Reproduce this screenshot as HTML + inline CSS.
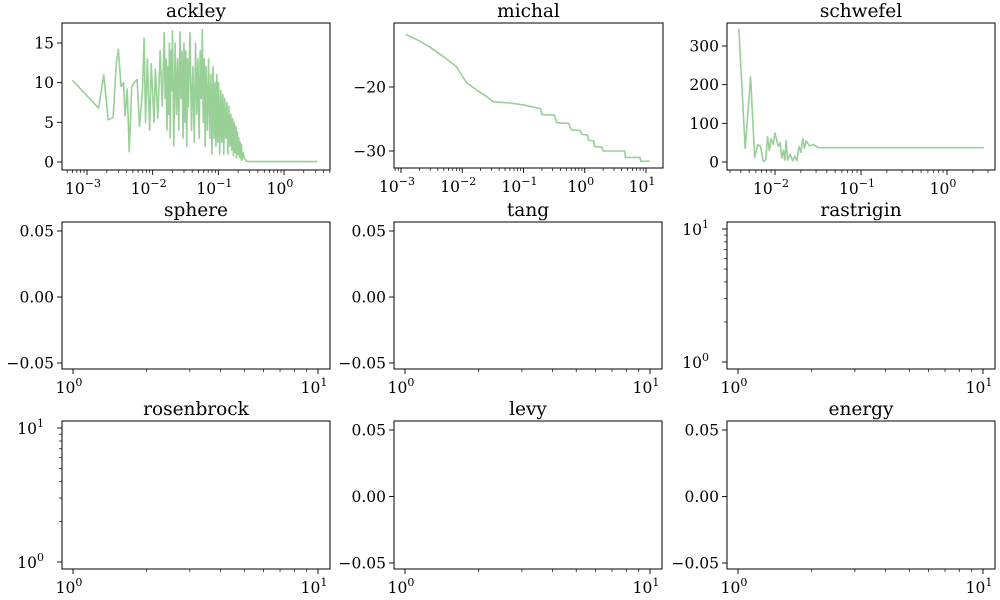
<!DOCTYPE html>
<html><head><meta charset="utf-8"><style>
body{margin:0;background:#fff}
svg{display:block;font-family:"DejaVu Serif","Liberation Serif",serif}
</style></head><body>
<svg id="fig" width="1000" height="600" viewBox="0 0 1000 600"></svg>
<script>
const ackleyX=[6e-4,1.5e-3,1.8e-3,2.1e-3,2.5e-3,2.8e-3,3.0e-3,3.3e-3,3.6e-3,3.8e-3,4.1e-3,4.4e-3,4.8e-3,5.2e-3,5.8e-3,6.3e-3,7e-3,7.4e-3,7.8e-3,8.3e-3,9e-3,9.5e-3,1.05e-2,1.1e-2,1.2e-2,1.3e-2,1.4e-2,1.5e-2,1.55e-2,1.6e-2,1.65e-2,1.7e-2,1.75e-2,1.8e-2,1.85e-2,1.9e-2,1.95e-2,2.0e-2,2.1e-2,2.2e-2,2.3e-2,2.4e-2,2.5e-2,2.6e-2,2.7e-2,2.8e-2,2.9e-2,3.0e-2,3.1e-2,3.2e-2,3.3e-2,3.4e-2,3.5e-2,3.7e-2,3.9e-2,4.1e-2,4.3e-2,4.5e-2,4.7e-2,4.9e-2,5.1e-2,5.3e-2,5.5e-2,5.7e-2,5.9e-2,6.1e-2,6.3e-2,6.5e-2,6.8e-2,7.1e-2,7.4e-2,7.7e-2,8.0e-2,8.3e-2,8.6e-2,8.9e-2,9.2e-2,9.5e-2,9.8e-2,0.101,0.105,0.109,0.113,0.117,0.121,0.125,0.13,0.135,0.14,0.145,0.15,0.155,0.16,0.165,0.17,0.175,0.18,0.185,0.19,0.195,0.2,0.205,0.21,0.215,0.22,0.225,0.23,0.24,0.25,0.27,0.3,0.35,0.45,0.7,1.5,3.2];
const ackleyY=[10.3,6.8,11,5.3,5.6,12.5,14.2,9.5,10,5.8,9.2,1.3,9.5,10,10.4,4.5,9,15.6,5,13,4,12.4,5,11.7,5.5,14,7,16.3,8,13,4,12,6,15,3,14,9,16.5,2,15,6,13,4,16.4,8,14,3,15,5,14,2,13,7,16.3,4,12,2.5,15,6,13,3,14,8,16.7,5,13,2,12,4,13,3,11,1,12,3,10,2,11,2.5,10,1,9,2.5,8.5,1,8,3,7.5,1,7,2,6,1.5,5.5,0.8,5,1.2,4.5,0.5,3.8,1,3,0.6,2.5,0.4,2.2,0.2,1.2,0.4,0.1,0.05,0.05,0.05,0.05,0.05,0.05];
const michalX=[1.2e-3,2e-3,3e-3,5e-3,8e-3,1e-2,1.2e-2,1.8e-2,2.5e-2,3.2e-2,0.06,0.1,0.19,0.2,0.32,0.35,0.55,0.6,0.85,0.9,1.1,1.15,1.4,1.45,1.9,2,4.5,4.6,8,8.2,11.5];
const michalY=[-11.8,-12.8,-13.8,-15.3,-16.8,-18.3,-19.4,-20.6,-21.5,-22.3,-22.5,-22.8,-23.4,-24.3,-24.4,-25.6,-25.7,-26.7,-26.8,-27.4,-27.5,-28.3,-28.4,-29.3,-29.4,-30,-30,-31,-31,-31.6,-31.6];
const schwefelX=[3.8e-3,4.5e-3,5.2e-3,5.8e-3,6.3e-3,6.8e-3,7.3e-3,7.8e-3,8.2e-3,8.6e-3,9e-3,9.5e-3,1e-2,1.05e-2,1.1e-2,1.15e-2,1.2e-2,1.25e-2,1.3e-2,1.35e-2,1.4e-2,1.5e-2,1.6e-2,1.7e-2,1.8e-2,1.9e-2,2.0e-2,2.1e-2,2.2e-2,2.3e-2,2.5e-2,2.8e-2,3.2e-2,2.7];
const schwefelY=[345,35,220,12,45,40,2,5,65,30,60,45,75,55,40,50,10,30,5,55,5,20,3,15,3,40,25,60,35,55,42,45,37,37];
const titles=["ackley","michal","schwefel","sphere","tang","rastrigin","rosenbrock","levy","energy"];
const linTicks=[0.05,0,-0.05];
const linTickLabels=["0.05","0.00","\u22120.05"];

const NS="http://www.w3.org/2000/svg";
const fig=document.getElementById('fig');
const TF=15.5, SF=11;
function el(t,a,p){const e=document.createElementNS(NS,t);for(const k in a)e.setAttribute(k,a[k]);(p||fig).appendChild(e);return e;}
function sup(g,x,y,base,exp,anchor){const t=el('text',{x:x,y:y,'text-anchor':anchor,'font-size':TF,fill:'#000'},g);t.textContent=base;const s=el('tspan',{'font-size':SF,dy:-7},t);s.textContent=exp;return t;}
function mapper(v0,p0,v1,p1,log){return v=>{const u=log?Math.log10(v):v;return p0+(u-v0)*(p1-p0)/(v1-v0);};}
function logTicksX(g,box,fx,lo,hi){
  for(let d=lo;d<=hi;d++){for(let m=1;m<10;m++){const v=m*Math.pow(10,d);const x=fx(v);if(x<box.l-0.1||x>box.r+0.1)continue;
    const tk=el('line',{x1:x,x2:x,y1:box.b,y2:box.b+(m==1?5:3),stroke:'#000','stroke-width':m==1?0.9:0.7},g);
    
    if(m==1){const e=(d<0?'\u2212':'')+Math.abs(d);const t=sup(g,x-4,box.b+24,'10',e,'middle');}}}
}
function logTicksY(g,box,fy,lo,hi){
  for(let d=lo;d<=hi;d++){for(let m=1;m<10;m++){const v=m*Math.pow(10,d);const y=fy(v);if(y<box.t-0.1||y>box.b+0.1)continue;
    el('line',{x1:box.l,x2:box.l-(m==1?5:3),y1:y,y2:y,stroke:'#000','stroke-width':m==1?0.9:0.7},g);
    if(m==1){const t=sup(g,box.l-18,y+6,'10',String(d),'end');}}}
}
function linTicksY(g,box,fy,vals,labels){
  vals.forEach((v,i)=>{const y=fy(v);if(y<box.t-0.5||y>box.b+0.5)return;
    el('line',{x1:box.l,x2:box.l-5,y1:y,y2:y,stroke:'#000','stroke-width':0.9},g);
    const t=el('text',{x:box.l-8,y:y+5.5,'text-anchor':'end','font-size':TF},g);t.textContent=labels[i];
    });
}
function panel(i,box){
  const g=el('g',{});
  
  
  const tt=el('text',{x:(box.l+box.r)/2,y:box.t-6,'text-anchor':'middle','font-size':18.5},g);tt.textContent=titles[i];
  
  return g;
}
function frame(g,box){const r=el('rect',{x:box.l,y:box.t,width:box.r-box.l,height:box.b-box.t,fill:'none',stroke:'#000','stroke-width':1},g);
  }
function line(g,xs,ys,fx,fy,box,name){
  const n=Math.min(xs.length,ys.length);
  let d='';for(let i=0;i<n;i++)d+=(i?'L':'M')+fx(xs[i]).toFixed(2)+','+fy(ys[i]).toFixed(2);
  const p=el('path',{d:d,fill:'none',stroke:'#98d098','stroke-width':1.6,'stroke-linejoin':'round'},g);
  
}
{const box={l:62,t:23,r:330,b:170};const g=panel(0,box);
 const fx=mapper(-3,87,0,284,true),fy=mapper(0,162,15,43,false);
 line(g,ackleyX,ackleyY,fx,fy,box,'ackley-line');frame(g,box);logTicksX(g,box,fx,-4,0);
 linTicksY(g,box,fy,[0,5,10,15],["0","5","10","15"]);}
{const box={l:394,t:23,r:663,b:168};const g=panel(1,box);
 const fx=mapper(-3,401,1,646,true),fy=mapper(-20,87,-30,151,false);
 line(g,michalX,michalY,fx,fy,box,'michal-line');frame(g,box);logTicksX(g,box,fx,-4,1);
 linTicksY(g,box,fy,[-20,-30],["\u221220","\u221230"]);}
{const box={l:727,t:23,r:995,b:170};const g=panel(2,box);
 const fx=mapper(-2,775,0,947,true),fy=mapper(0,162,300,46,false);
 line(g,schwefelX,schwefelY,fx,fy,box,'schwefel-line');frame(g,box);logTicksX(g,box,fx,-3,0);
 linTicksY(g,box,fy,[0,100,200,300],["0","100","200","300"]);}
const cols=[[62,330,73,318],[394,662,405,650],[727,995,738,983]];
const rows=[[222,369],[421,569]];
for(let r=0;r<2;r++)for(let c=0;c<3;c++){
  const i=3+r*3+c;const box={l:cols[c][0],t:rows[r][0],r:cols[c][1],b:rows[r][1]};
  const g=panel(i,box);frame(g,box);
  const fx=mapper(0,cols[c][2],1,cols[c][3],true);logTicksX(g,box,fx,-1,1);
  if(titles[i]=="rastrigin"||titles[i]=="rosenbrock"){const fy=mapper(1,box.t+7,0,box.b-7,true);logTicksY(g,box,fy,0,1);}
  else{const fy=mapper(0.05,box.t+9,-0.05,box.b-6,false);linTicksY(g,box,fy,linTicks,linTickLabels);}
}
</script>
</body></html>
